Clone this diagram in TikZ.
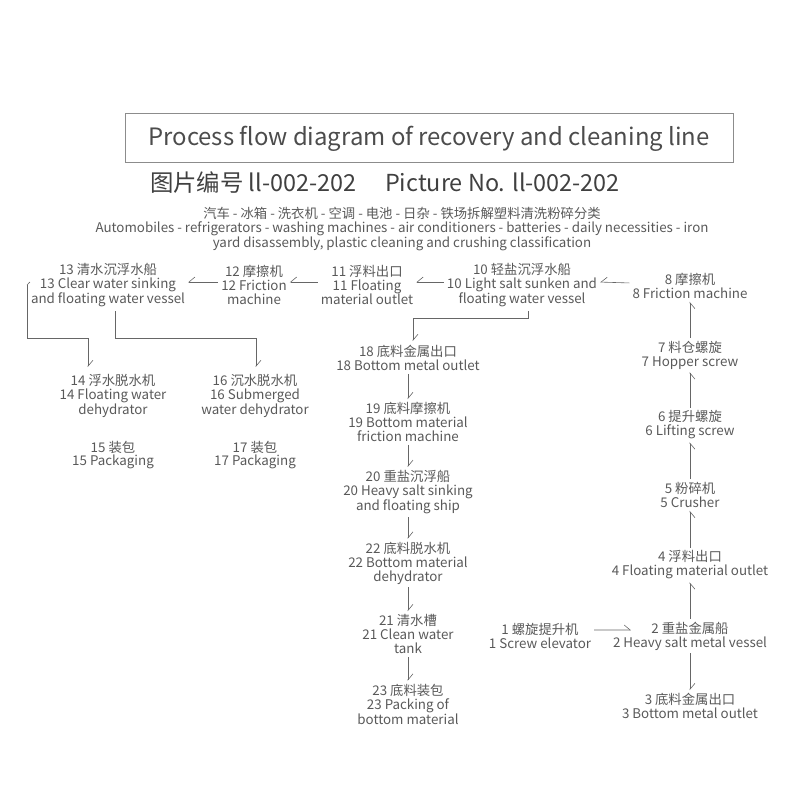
\documentclass[tikz,border=0pt]{standalone}
\usepackage{fontspec}
\setmainfont{Noto Sans CJK SC}[Scale=1]
\usetikzlibrary{arrows.meta}
\usetikzlibrary{positioning}

\begin{document}
\begin{tikzpicture}
	[x=1bp, y=-1bp,
	every node/.style={text=black!65, font=\fontsize{13.4}{14}\selectfont, align=center, inner sep=1pt},
	flow/.style={draw=black!60, semithick, shorten <=2pt, shorten >=2pt, -{Straight Barb[harpoon, length=6pt, width=10pt]}},
	flow swap/.style={flow, -{Straight Barb[harpoon, swap, length=6pt, width=10pt]}},
	pipe/.style={draw=black!60, semithick}]

\useasboundingbox (0,0) rectangle (800,800);

% Title
\draw[black!45, thick] (125,113) rectangle (733,162);
\node (title) [font=\fontsize{24}{26}\selectfont, text=black!70] at (429,139)
	{Process flow diagram of recovery and cleaning line};
\node (picno) [font=\fontsize{23.5}{26}\selectfont, text=black!75] at (385,183)
	{图片编号 ll-002-202\quad\ Picture No. ll-002-202};
\node (intro) at (402,229)
	{汽车 - 冰箱 - 洗衣机 - 空调 - 电池 - 日杂 - 铁场拆解塑料清洗粉碎分类\\
	Automobiles - refrigerators - washing machines - air conditioners - batteries - daily necessities - iron\\
	yard disassembly, plastic cleaning and crushing classification};

% Top row
\node (n13) at (108,285) {13 清水沉浮水船\\13 Clear water sinking\\and floating water vessel};
\node (n12) at (254,285) {12 摩擦机\\12 Friction\\machine};
\node (n11) at (367,285) {11 浮料出口\\11 Floating\\material outlet};
\node (n10) at (522,285) {10 轻盐沉浮水船\\10 Light salt sunken and\\floating water vessel};
\node (n8) at (690,286) {8 摩擦机\\8 Friction machine};

% Right column
\node (n7) at (690,355) {7 料仓螺旋\\7 Hopper screw};
\node (n6) at (690,425) {6 提升螺旋\\6 Lifting screw};
\node (n5) at (690,495) {5 粉碎机\\5 Crusher};
\node (n4) at (690,565) {4 浮料出口\\4 Floating material outlet};
\node (n2) at (690,636) {2 重盐金属船\\2 Heavy salt metal vessel};
\node (n3) at (690,706) {3 底料金属出口\\3 Bottom metal outlet};
\node (n1) at (540,636) {1 螺旋提升机\\1 Screw elevator};

% Middle column
\node (n18) at (408,358) {18 底料金属出口\\18 Bottom metal outlet};
\node (n19) at (408,422) {19 底料摩擦机\\19 Bottom material\\friction machine};
\node (n20) at (408,492) {20 重盐沉浮船\\20 Heavy salt sinking\\and floating ship};
\node (n22) at (408,563) {22 底料脱水机\\22 Bottom material\\dehydrator};
\node (n21) at (408,634) {21 清水槽\\21 Clean water\\tank};
\node (n23) at (408,704) {23 底料装包\\23 Packing of\\bottom material};

% Left columns
\node (n14) at (113,396) {14 浮水脱水机\\14 Floating water\\dehydrator};
\node (n16) at (255,396) {16 沉水脱水机\\16 Submerged\\water dehydrator};
\node (n15) at (113,455) {15 装包\\15 Packaging};
\node (n17) at (255,455) {17 装包\\17 Packaging};

% Connectors
\coordinate (c13a) at (27,285);
\coordinate (c13b) at (115,311);
\coordinate (c10) at (528,311);
\coordinate (c2) at (633,630);
\draw[flow] ([yshift=6pt]n1.east) -- (c2);
\draw[flow] (n2) -- (n3);
\draw[flow swap] (n2) -- (n4);
\draw[flow swap] (n4) -- (n5);
\draw[flow swap] (n5) -- (n6);
\draw[flow swap] (n6) -- (n7);
\draw[flow swap] (n7) -- (n8);
\draw[flow swap] ([yshift=3pt]n8.west) -- ([yshift=3pt]n10.east);
\draw[flow swap] ([yshift=3pt]n10.west) -- ([yshift=3pt]n11.east);
\draw[flow swap] ([yshift=3pt]n11.west) -- ([yshift=3pt]n12.east);
\draw[flow swap] ([yshift=3pt]n12.west) -- ([yshift=3pt]n13.east);
\draw[pipe] ([yshift=3pt]n13.west) -- (c13a);
\draw[flow, shorten <=0pt] (c13a) |- (88,338) -- (88,369);
\draw[flow, shorten <=0pt] (c13b) |- (256,338) -- (256,369);
\draw[flow, shorten <=0pt] (c10) |- (413,318) -- (413,343);
\draw[flow] (n18) -- (n19);
\draw[flow] (n19) -- (n20);
\draw[flow] (n20) -- (n22);
\draw[flow] (n22) -- (n21);
\draw[flow] (n21) -- (n23);

\end{tikzpicture}
\end{document}
